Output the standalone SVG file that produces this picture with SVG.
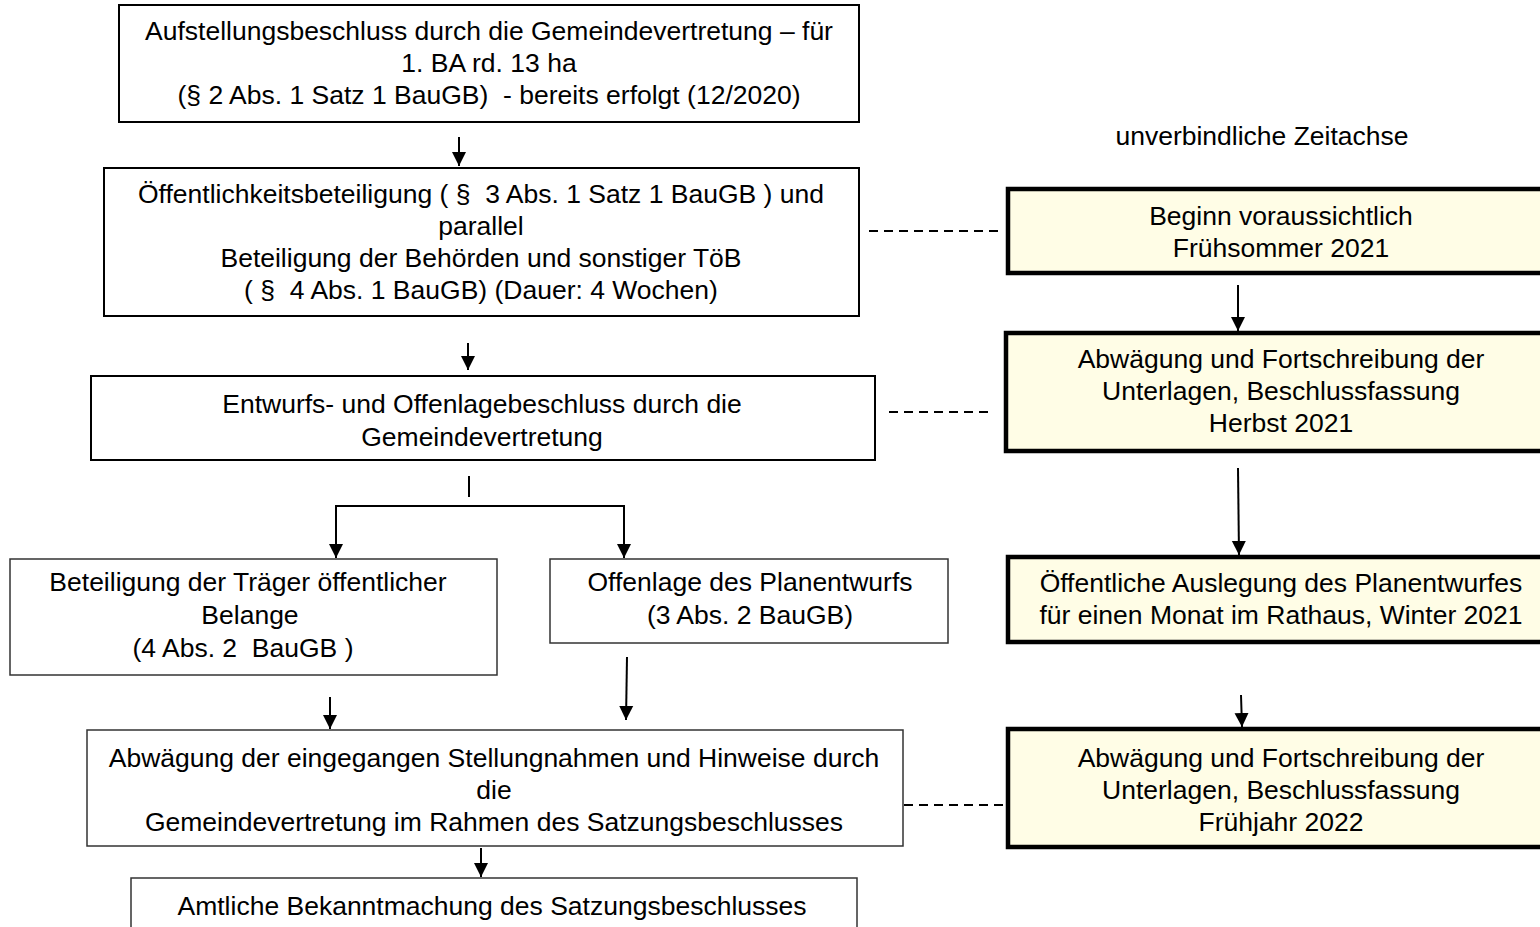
<svg xmlns="http://www.w3.org/2000/svg" width="1540" height="927" viewBox="0 0 1540 927">
<style>
  text { font-family: "Liberation Sans", Arial, sans-serif; font-size: 26.5px; fill: #000; text-anchor: middle; }
  .box { fill: #fff; stroke: #000; stroke-width: 2; }
  .box2 { fill: #fff; stroke: #333; stroke-width: 1.5; }
  .ybox { fill: #FFFDE6; stroke: #000; stroke-width: 4.5; }
  .line { fill: none; stroke: #000; stroke-width: 2; }
  .dash { fill: none; stroke: #000; stroke-width: 2; stroke-dasharray: 9 6; }
</style>
<defs>
  <marker id="ah" markerUnits="userSpaceOnUse" markerWidth="14" markerHeight="16" refX="14" refY="7" orient="auto" viewBox="0 0 14 14">
    <path d="M0,0 L14,7 L0,14 Z" fill="#000"/>
  </marker>
</defs>

<g id="n1">
  <rect class="box" x="119" y="5" width="740" height="117"/>
  <text x="489" y="40">Aufstellungsbeschluss durch die Gemeindevertretung – für</text>
  <text x="489" y="72">1. BA rd. 13 ha</text>
  <text x="489" y="104" xml:space="preserve">(§ 2 Abs. 1 Satz 1 BauGB)  - bereits erfolgt (12/2020)</text>
</g>
<g id="n2">
  <rect class="box" x="104" y="168" width="755" height="148"/>
  <text x="481" y="203" xml:space="preserve">Öffentlichkeitsbeteiligung ( §  3 Abs. 1 Satz 1 BauGB ) und</text>
  <text x="481" y="235">parallel</text>
  <text x="481" y="267">Beteiligung der Behörden und sonstiger TöB</text>
  <text x="481" y="299" xml:space="preserve">( §  4 Abs. 1 BauGB) (Dauer: 4 Wochen)</text>
</g>
<g id="n3">
  <rect class="box" x="91" y="376" width="784" height="84"/>
  <text x="482" y="413">Entwurfs- und Offenlagebeschluss durch die</text>
  <text x="482" y="446">Gemeindevertretung</text>
</g>
<g id="n4">
  <rect class="box2" x="10" y="559" width="487" height="116"/>
  <text x="248" y="591">Beteiligung der Träger öffentlicher</text>
  <text x="250" y="624">Belange</text>
  <text x="243" y="657" xml:space="preserve">(4 Abs. 2  BauGB )</text>
</g>
<g id="n5">
  <rect class="box2" x="550" y="559" width="398" height="84"/>
  <text x="750" y="591">Offenlage des Planentwurfs</text>
  <text x="750" y="624">(3 Abs. 2 BauGB)</text>
</g>
<g id="n6">
  <rect class="box2" x="87" y="730" width="816" height="116"/>
  <text x="494" y="767">Abwägung der eingegangen Stellungnahmen und Hinweise durch</text>
  <text x="494" y="799">die</text>
  <text x="494" y="831">Gemeindevertretung im Rahmen des Satzungsbeschlusses</text>
</g>
<g id="n7">
  <rect class="box2" x="131" y="878" width="726" height="60"/>
  <text x="492" y="915">Amtliche Bekanntmachung des Satzungsbeschlusses</text>
</g>

<g id="label-zeitachse">
  <text x="1262" y="145">unverbindliche Zeitachse</text>
</g>
<g id="r1">
  <rect class="ybox" x="1008" y="189" width="546" height="84"/>
  <text x="1281" y="225">Beginn voraussichtlich</text>
  <text x="1281" y="257">Frühsommer 2021</text>
</g>
<g id="r2">
  <rect class="ybox" x="1006" y="333" width="548" height="118"/>
  <text x="1281" y="368">Abwägung und Fortschreibung der</text>
  <text x="1281" y="400">Unterlagen, Beschlussfassung</text>
  <text x="1281" y="432">Herbst 2021</text>
</g>
<g id="r3">
  <rect class="ybox" x="1008" y="557" width="546" height="85"/>
  <text x="1281" y="592">Öffentliche Auslegung des Planentwurfes</text>
  <text x="1281" y="624">für einen Monat im Rathaus, Winter 2021</text>
</g>
<g id="r4">
  <rect class="ybox" x="1008" y="729" width="546" height="118"/>
  <text x="1281" y="767">Abwägung und Fortschreibung der</text>
  <text x="1281" y="799">Unterlagen, Beschlussfassung</text>
  <text x="1281" y="831">Frühjahr 2022</text>
</g>

<g id="connectors">
  <line class="line" x1="459" y1="137" x2="459" y2="166" marker-end="url(#ah)"/>
  <line class="line" x1="468" y1="343" x2="468" y2="370" marker-end="url(#ah)"/>
  <line class="line" x1="469" y1="476" x2="469" y2="497"/>
  <polyline class="line" points="336,558 336,506 624,506 624,558" marker-end="url(#ah)"/>
  <line class="line" x1="336" y1="506" x2="336" y2="558" marker-end="url(#ah)"/>
  <line class="line" x1="330" y1="697" x2="330" y2="729" marker-end="url(#ah)"/>
  <line class="line" x1="627" y1="657" x2="626" y2="720" marker-end="url(#ah)"/>
  <line class="line" x1="481" y1="848" x2="481" y2="877" marker-end="url(#ah)"/>
  <line class="line" x1="1238" y1="285" x2="1238" y2="331" marker-end="url(#ah)"/>
  <line class="line" x1="1238" y1="468" x2="1239" y2="555" marker-end="url(#ah)"/>
  <line class="line" x1="1241" y1="695" x2="1242" y2="727" marker-end="url(#ah)"/>
  <line class="dash" x1="869" y1="231" x2="1004" y2="231"/>
  <line class="dash" x1="889" y1="412" x2="992" y2="412"/>
  <line class="dash" x1="904" y1="805" x2="1004" y2="805"/>
</g>
</svg>
